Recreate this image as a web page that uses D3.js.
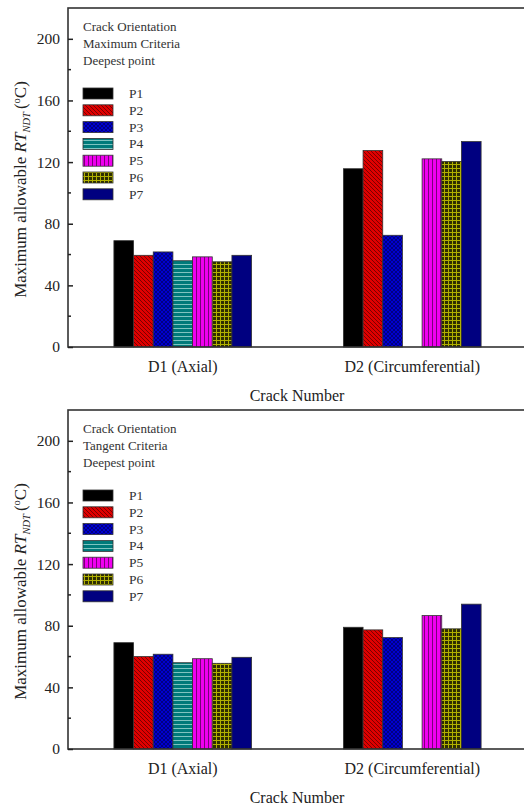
<!DOCTYPE html>
<html>
<head>
<meta charset="utf-8">
<script src="https://cdn.jsdelivr.net/npm/d3@7"></script>
<style>
  html, body { margin: 0; padding: 0; background: #fff; }
  svg { display: block; }
  svg text { font-family: "Liberation Serif", serif !important; }
</style>
</head>
<body>
<svg id="chart" width="524" height="810"></svg>
<script>
// Crack categories and probe points
const cracks = ["D1 (Axial)", "D2 (Circumferential)"];
const points = ["P1", "P2", "P3", "P4", "P5", "P6", "P7"];
const yTicks = [0, 40, 80, 120, 160, 200];

// Maximum allowable RT_NDT (°C), one row per crack, one entry per point (null = no bar)
const maxCriteriaD1 = [69, 59.5, 61.7, 56, 58.5, 55.3, 59.5];
const maxCriteriaD2 = [115.7, 127.5, 72.5, null, 122.1, 120.4, 133.3];
const tanCriteriaD1 = [69, 60, 61.5, 56, 58.6, 55.6, 59.5];
const tanCriteriaD2 = [79, 77.3, 72.3, null, 86.6, 78, 94];

const panelNotes = [
  ["Crack Orientation", "Maximum Criteria", "Deepest point"],
  ["Crack Orientation", "Tangent Criteria", "Deepest point"]
];

const FONT = "Liberation Serif";
const svg = d3.select("#chart");
const defs = svg.append("defs");

// Fill patterns for the seven points
function pattern(id, size, base, draw) {
  const p = defs.append("pattern").attr("id", id)
    .attr("patternUnits", "userSpaceOnUse")
    .attr("width", size).attr("height", size);
  p.append("rect").attr("width", size).attr("height", size).attr("fill", base);
  draw(p);
}
pattern("pt1", 4, "#000000", () => {});
pattern("pt2", 4, "#e00000", p => {
  p.append("path").attr("d", "M-1,-1 L5,5 M-1,3 L1,5 M3,-1 L5,1")
    .attr("stroke", "#7a0000").attr("stroke-width", 1);
});
pattern("pt3", 4, "#0000d0", p => {
  p.append("path").attr("d", "M0,0 L4,4 M4,0 L0,4")
    .attr("stroke", "#000070").attr("stroke-width", 0.8);
});
pattern("pt4", 4, "#007a7a", p => {
  p.append("rect").attr("x", 0).attr("y", 0).attr("width", 4).attr("height", 1).attr("fill", "#7fc4c0");
});
pattern("pt5", 4, "#f000f0", p => {
  p.append("rect").attr("x", 0).attr("y", 0).attr("width", 1).attr("height", 4).attr("fill", "#7a007a");
});
pattern("pt6", 4, "#2e2e00", p => {
  p.append("rect").attr("x", 0).attr("y", 0).attr("width", 4).attr("height", 1).attr("fill", "#b0b000");
  p.append("rect").attr("x", 0).attr("y", 0).attr("width", 1).attr("height", 4).attr("fill", "#b0b000");
});
pattern("pt7", 4, "#000080", () => {});
const fills = points.map((d, i) => `url(#pt${i + 1})`);

function drawPanel(rows, notes, top, bottom) {
  const left = 68, right = 527;
  const g = svg.append("g");

  const x = d3.scaleBand().domain(cracks).range([left, right])
    .paddingInner(0.4).paddingOuter(0.2);
  const xs = d3.scaleBand().domain(points).range([0, x.bandwidth()]);
  const y = d3.scaleLinear().domain([0, 220]).range([bottom, top]);

  // bars
  cracks.forEach((c, ci) => {
    rows[ci].forEach((v, pi) => {
      if (v == null) return;
      g.append("rect")
        .attr("x", x(c) + xs(points[pi]))
        .attr("y", y(v))
        .attr("width", xs.bandwidth())
        .attr("height", y(0) - y(v))
        .attr("fill", fills[pi])
        .attr("stroke", "#333")
        .attr("stroke-width", 0.8);
    });
  });

  // frame
  g.append("rect").attr("x", left).attr("y", top)
    .attr("width", right - left).attr("height", bottom - top)
    .attr("fill", "none").attr("stroke", "#333").attr("stroke-width", 1.6);

  // left axis: inward major and minor ticks
  const yAxis = d3.axisLeft(y).tickValues(yTicks).tickSize(-5).tickPadding(8)
    .tickFormat(d3.format("d"));
  const ya = g.append("g").attr("transform", `translate(${left},0)`).call(yAxis)
    .attr("font-family", FONT);
  ya.select(".domain").remove();
  ya.selectAll("line").attr("stroke", "#222").attr("stroke-width", 1.5);
  ya.selectAll("text").attr("font-size", 15.5).attr("fill", "#222");
  const minor = d3.range(20, 220, 40);
  g.selectAll(null).data(minor).enter().append("line")
    .attr("x1", left).attr("x2", left + 3)
    .attr("y1", d => y(d)).attr("y2", d => y(d))
    .attr("stroke", "#222").attr("stroke-width", 1.5);

  // bottom axis labels
  const xAxis = d3.axisBottom(x).tickSize(0).tickPadding(14);
  const xa = g.append("g").attr("transform", `translate(0,${bottom})`).call(xAxis)
    .attr("font-family", FONT);
  xa.select(".domain").remove();
  xa.selectAll("text").attr("font-size", 16).attr("fill", "#222");

  g.append("text").attr("x", 297).attr("y", bottom + 54)
    .attr("text-anchor", "middle").attr("font-size", 16).attr("fill", "#222")
    .text("Crack Number");

  // y title
  const yt = g.append("text")
    .attr("transform", `translate(26,${(top + bottom) / 2 + 12}) rotate(-90)`)
    .attr("text-anchor", "middle").attr("font-size", 17).attr("fill", "#222");
  yt.append("tspan").text("Maximum allowable ");
  yt.append("tspan").attr("font-style", "italic").text("RT");
  yt.append("tspan").attr("font-style", "italic").attr("font-size", 10.5).attr("dy", 4).text("NDT");
  yt.append("tspan").attr("dy", -4).attr("dx", 3).text("(");
  yt.append("tspan").attr("font-size", 10.5).attr("dy", -6).text("o");
  yt.append("tspan").attr("dy", 6).text("C)");

  // notes
  notes.forEach((t, i) => {
    g.append("text").attr("x", 83).attr("y", top + 23 + i * 17)
      .attr("font-size", 13).attr("fill", "#333").text(t);
  });

  // legend
  const lg = g.append("g");
  points.forEach((p, i) => {
    const ly = top + 80 + i * 16.8;
    lg.append("rect").attr("x", 83).attr("y", ly).attr("width", 30).attr("height", 11)
      .attr("fill", fills[i]).attr("stroke", "#333").attr("stroke-width", 0.8);
    lg.append("text").attr("x", 129).attr("y", ly + 10)
      .attr("font-size", 13.5).attr("fill", "#333").text(p);
  });
}

drawPanel([maxCriteriaD1, maxCriteriaD2], panelNotes[0], 8, 347);
drawPanel([tanCriteriaD1, tanCriteriaD2], panelNotes[1], 410, 749);
</script>
</body>
</html>
